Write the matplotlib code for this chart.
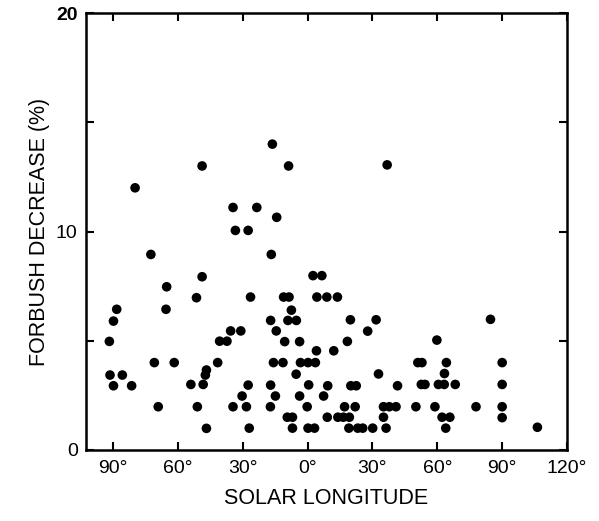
import numpy as np
import matplotlib.pyplot as plt

plt.rcParams['font.family'] = ['Liberation Sans', 'DejaVu Sans']

# solar longitude in degrees (east negative, west positive), Forbush decrease in %
lon = [-16.3, -48.8, -8.8, 36.8, -79.8, -34.5, -23.5, -14.3, -33.4, -27.5,
       -72.5, -16.8, -48.8, 2.5, 6.6, -65.2, -51.4,
       -26.4, -11.1, -8.6, 4.3, 8.9, 13.8,
       -88.3, -65.5, -7.5,
       -89.8, -17.1, -9.1, -5.2, 19.8, 31.7, 84.6,
       -35.6, -30.9, -14.5, 27.8,
       -91.7, -40.7, -37.3, -10.6, -3.7, 18.4, 59.8,
       4.1, 12.1,
       -70.9, -61.7, -41.6, -15.8, -11.4, -3.3, 0.2, 3.6, 51.0, 52.9, 64.2, 90.0,
       -46.8, -47.3, -91.4, -85.7, -5.3, 32.8, 63.3,
       -89.8, -81.4, -54.0, -48.3, -27.5, -17.1, 0.5, 9.3, 20.0, 22.5, 41.6,
       52.6, 54.3, 60.5, 63.2, 68.3, 90.0,
       -30.3, -14.9, -3.7, 7.4,
       -69.1, -51.0, -34.5, -28.3, -17.2, -0.2, 17.1, 22.0, 35.1, 37.8, 40.9,
       50.1, 58.9, 77.9, 90.0,
       -9.4, -7.0, 9.1, 14.0, 16.5, 19.3, 35.1, 62.2, 65.8, 90.0,
       -46.8, -27.0, -7.0, 0.2, 3.2, 19.1, 23.2, 25.5, 30.1, 36.3, 63.9, 106.3]
decrease = [14.0, 13.0, 13.0, 13.05, 12.0, 11.1, 11.1, 10.65, 10.05, 10.05,
            8.95, 8.95, 7.93, 7.98, 7.98, 7.47, 6.97,
            7.0, 7.0, 7.0, 7.0, 7.0, 7.0,
            6.44, 6.44, 6.4,
            5.9, 5.93, 5.93, 5.93, 5.96, 5.96, 5.98,
            5.45, 5.45, 5.45, 5.44,
            4.97, 4.98, 4.98, 4.96, 4.96, 4.97, 5.03,
            4.54, 4.54,
            4.0, 4.0, 4.0, 4.0, 4.0, 4.0, 4.0, 4.0, 4.0, 4.0, 4.0, 4.0,
            3.66, 3.43, 3.43, 3.43, 3.47, 3.48, 3.5,
            2.94, 2.94, 3.0, 3.0, 2.97, 2.97, 2.98, 2.94, 2.94, 2.94, 2.94,
            3.0, 3.0, 3.0, 3.0, 3.0, 3.0,
            2.47, 2.47, 2.47, 2.47,
            1.98, 1.98, 1.98, 1.98, 1.98, 1.98, 1.98, 1.98, 1.98, 1.98, 1.98,
            1.98, 1.98, 1.98, 1.98,
            1.5, 1.5, 1.5, 1.5, 1.5, 1.5, 1.5, 1.5, 1.5, 1.48,
            0.99, 1.0, 1.0, 1.0, 1.0, 1.0, 1.0, 1.0, 1.0, 1.0, 1.0, 1.04]

xticks = [-90, -60, -30, 0, 30, 60, 90, 120]
xticklabels = ['90°', '60°', '30°', '0°', '30°', '60°', '90°', '120°']

fig = plt.figure(figsize=(5.99, 5.21), dpi=100)
ax = fig.add_axes([0.1436, 0.1363, 0.8030, 0.8387])

ax.scatter(lon, decrease, s=48, c='black', edgecolors='none', zorder=3)

ax.set_xlim(-102.5, 120)
ax.set_ylim(0, 20)

ax.set_xticks(xticks)
ax.set_xticklabels(xticklabels, fontsize=14)
ax.set_yticks([0, 5, 10, 15, 20])
ax.set_yticklabels(['0', '', '10', '', '20'], fontsize=14)
ax.get_yticklabels()[-1].set_fontweight('bold')

ax.tick_params(direction='in', length=6, width=1.5, top=True, right=True,
               pad=7, colors='black')
ax.tick_params(axis='y', pad=6)
for sp in ax.spines.values():
    sp.set_linewidth(1.8)

ax.set_xlabel('SOLAR LONGITUDE', fontsize=15.5, labelpad=8)
ax.set_ylabel('FORBUSH DECREASE (%)', fontsize=15.5, labelpad=4)

fig.savefig('out.png', dpi=100)
